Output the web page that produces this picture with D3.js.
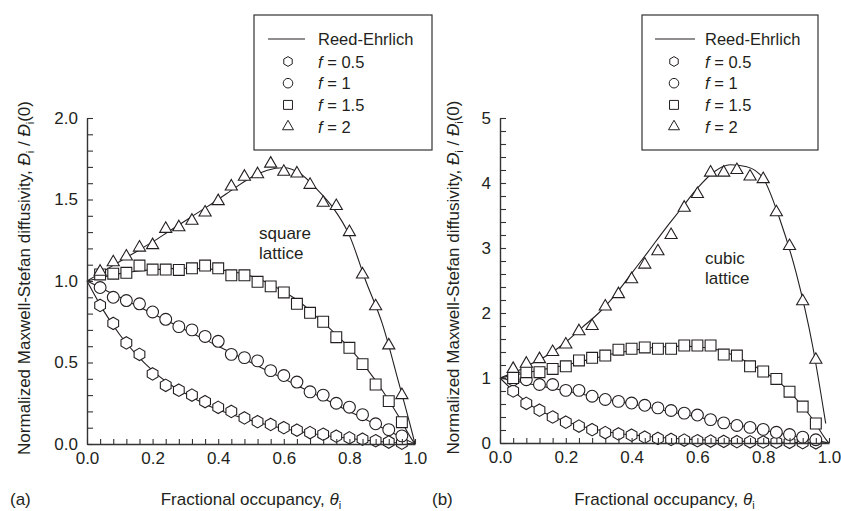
<!DOCTYPE html>
<html><head><meta charset="utf-8">
<script src="https://cdn.jsdelivr.net/npm/d3@7"></script>
<style>
body{margin:0;background:#fff}
svg{display:block}
text{font-family:"Liberation Sans",Arial,Helvetica,sans-serif;fill:#231f20}
</style>
</head><body>
<svg id="chart" width="841" height="511"></svg>
<script>
// ---------- DATA ----------
const occupancy = [0.04,0.08,0.12,0.16,0.20,0.24,0.28,0.32,0.36,0.40,0.44,0.48,0.52,0.56,0.60,0.64,0.68,0.72,0.76,0.80,0.84,0.88,0.92,0.96];
const curveOccupancy = [0,0.05,0.10,0.15,0.20,0.25,0.30,0.35,0.40,0.45,0.50,0.55,0.60,0.65,0.70,0.75,0.80,0.85,0.90,0.95,0.99,1.0];
const seriesLabels = ["0.5","1","1.5","2"];

// (a) square lattice – simulation markers
const sqHexagon  = [0.85,0.74,0.62,0.55,0.43,0.36,0.33,0.30,0.26,0.225,0.20,0.16,0.137,0.12,0.10,0.085,0.07,0.06,0.048,0.038,0.03,0.02,0.012,0.005];
const sqCircle   = [0.96,0.90,0.88,0.86,0.81,0.765,0.72,0.70,0.66,0.63,0.55,0.53,0.51,0.45,0.42,0.38,0.32,0.30,0.25,0.226,0.18,0.124,0.088,0.05];
const sqSquare   = [1.04,1.045,1.05,1.095,1.07,1.07,1.068,1.078,1.095,1.078,1.035,1.035,0.995,0.967,0.93,0.86,0.805,0.75,0.655,0.59,0.49,0.365,0.263,0.134];
const sqTriangle = [1.057,1.115,1.15,1.205,1.22,1.32,1.33,1.37,1.42,1.49,1.58,1.64,1.655,1.72,1.67,1.66,1.59,1.48,1.46,1.30,1.04,0.845,0.605,0.30];
// (a) Reed-Ehrlich curves
const sqCurveF05 = [1.0,0.82,0.67,0.55,0.45,0.37,0.31,0.255,0.21,0.175,0.145,0.118,0.095,0.076,0.06,0.046,0.034,0.023,0.014,0.006,0.001,0];
const sqCurveF1  = [1.0,0.95,0.90,0.85,0.80,0.75,0.70,0.65,0.60,0.55,0.50,0.45,0.40,0.35,0.30,0.25,0.20,0.15,0.10,0.05,0.01,0];
const sqCurveF15 = [1.0,1.025,1.045,1.06,1.07,1.075,1.078,1.075,1.07,1.055,1.03,0.99,0.935,0.87,0.78,0.69,0.59,0.47,0.33,0.17,0.03,0];
const sqCurveF2  = [1.0,1.06,1.12,1.18,1.24,1.305,1.37,1.435,1.50,1.57,1.635,1.68,1.695,1.66,1.565,1.45,1.28,1.0,0.74,0.38,0.08,0];

// (b) cubic lattice – simulation markers
const cuHexagon  = [0.80,0.61,0.505,0.40,0.32,0.26,0.205,0.16,0.14,0.12,0.09,0.07,0.055,0.045,0.035,0.03,0.025,0.02,0.018,0.015,0.012,0.01,0.005,0.003];
const cuCircle   = [0.974,0.974,0.90,0.90,0.81,0.81,0.72,0.67,0.64,0.615,0.58,0.54,0.50,0.46,0.43,0.36,0.31,0.27,0.24,0.21,0.165,0.13,0.09,0.05];
const cuSquare   = [1.0,1.09,1.09,1.14,1.18,1.27,1.31,1.345,1.435,1.45,1.47,1.45,1.45,1.50,1.50,1.50,1.36,1.345,1.18,1.10,0.985,0.79,0.56,0.30];
const cuTriangle = [1.14,1.22,1.29,1.40,1.515,1.72,1.80,2.10,2.29,2.52,2.745,2.95,3.20,3.62,3.83,4.16,4.16,4.20,4.10,4.06,3.55,3.03,2.18,1.28];
// (b) Reed-Ehrlich curves
const cuCurveF05 = [1.0,0.76,0.56,0.43,0.33,0.255,0.20,0.155,0.125,0.10,0.08,0.065,0.052,0.042,0.033,0.025,0.018,0.012,0.008,0.004,0.001,0];
const cuCurveF1  = [1.0,0.95,0.90,0.85,0.80,0.75,0.70,0.65,0.60,0.55,0.50,0.45,0.40,0.35,0.30,0.25,0.20,0.15,0.10,0.05,0.01,0];
const cuCurveF15 = [1.0,1.05,1.10,1.15,1.20,1.26,1.32,1.38,1.42,1.46,1.48,1.49,1.48,1.45,1.37,1.25,1.10,0.93,0.68,0.37,0.06,0];
const cuCurveF2  = [1.0,1.10,1.23,1.37,1.55,1.78,2.00,2.28,2.61,2.94,3.28,3.60,3.92,4.17,4.28,4.25,4.07,3.45,2.62,1.50,0.30,null];

// axis tick values
const xTickValues = d3.range(0, 25.5, 1).map(i => +(i*0.04).toFixed(2));
const xTickLabels = [0, 0.2, 0.4, 0.6, 0.8, 1.0];
const sqYTicks = d3.range(0, 20.5, 1).map(i => +(i*0.1).toFixed(1));
const sqYLabels = [0, 0.5, 1.0, 1.5, 2.0];
const cuYTicks = d3.range(0, 25.5, 1).map(i => +(i*0.2).toFixed(1));
const cuYLabels = [0, 1, 2, 3, 4, 5];

// ---------- DRAWING ----------
const INK = "#231f20";
const svg = d3.select("#chart");

const symbolHexagon = {
  draw(ctx, size) {
    const r = Math.sqrt(size / (3 * Math.sqrt(3) / 2));
    for (let i = 0; i < 6; i++) {
      const a = Math.PI / 3 * i - Math.PI / 2;
      const x = r * Math.cos(a), y = r * Math.sin(a);
      if (i) ctx.lineTo(x, y); else ctx.moveTo(x, y);
    }
    ctx.closePath();
  }
};
const symbolTypes = [symbolHexagon, d3.symbolCircle, d3.symbolSquare, d3.symbolTriangle];
const plotSizes = [100, 110, 118, 64];
const legendSizes = [62, 72, 80, 52];

function panel(cfg) {
  const g = svg.append("g");
  const x = d3.scaleLinear().domain([0, 1]).range([cfg.x0, cfg.x1]);
  const y = d3.scaleLinear().domain([0, cfg.yMax]).range([cfg.yBot, cfg.yTop]);

  // curves
  const line = d3.line()
    .defined(d => d[1] !== null)
    .x(d => x(d[0])).y(d => y(d[1]))
    .curve(d3.curveMonotoneX);
  cfg.curves.forEach(c => {
    g.append("path")
      .datum(curveOccupancy.map((t, i) => [t, c[i]]))
      .attr("d", line)
      .attr("fill", "none").attr("stroke", INK).attr("stroke-width", 1.1);
  });

  // markers
  cfg.markers.forEach((m, si) => {
    const sym = d3.symbol().type(symbolTypes[si]).size(plotSizes[si]);
    g.append("g").selectAll("path")
      .data(occupancy.map((t, i) => [t, m[i]]))
      .join("path")
      .attr("transform", d => `translate(${x(d[0])},${y(d[1])})`)
      .attr("d", sym)
      .attr("fill", "#fff").attr("stroke", INK).attr("stroke-width", 1.1);
  });

  // axes
  const xAxis = d3.axisBottom(x).tickValues(xTickValues)
    .tickSizeInner(-5).tickSizeOuter(0).tickPadding(8)
    .tickFormat(d => xTickLabels.some(v => Math.abs(v - d) < 1e-9) ? d3.format(".1f")(d) : "");
  const gx = g.append("g").attr("transform", `translate(0,${cfg.yBot})`).call(xAxis);
  const yAxis = d3.axisLeft(y).tickValues(cfg.yTicks)
    .tickSizeInner(-6).tickSizeOuter(0).tickPadding(9)
    .tickFormat(d => cfg.yLabels.some(v => Math.abs(v - d) < 1e-9) ? d3.format(cfg.yFormat)(d) : "");
  const gy = g.append("g").attr("transform", `translate(${cfg.x0},0)`).call(yAxis);
  [gx, gy].forEach(a => {
    a.select(".domain").attr("stroke", "#333").attr("stroke-width", 1.4);
    a.selectAll(".tick line").attr("stroke", "#333").attr("stroke-width", 1.1);
    a.selectAll(".tick text").attr("fill", INK).attr("font-size", 17)
      .attr("font-family", '"Liberation Sans",Arial,sans-serif');
  });
  gx.selectAll(".tick text").attr("dy", "0.71em");

  // axis titles
  const xt = g.append("text").attr("x", (cfg.x0 + cfg.x1) / 2).attr("y", 505)
    .attr("text-anchor", "middle").attr("font-size", 17);
  xt.append("tspan").text("Fractional occupancy, ");
  xt.append("tspan").attr("font-style", "italic").text("θ");
  xt.append("tspan").attr("font-size", 11).attr("dy", 4).text("i");

  const yt = g.append("text")
    .attr("transform", `translate(${cfg.yTitleX},${(cfg.yTop + cfg.yBot) / 2 - 3}) rotate(-90)`)
    .attr("text-anchor", "middle").attr("font-size", 17);
  yt.append("tspan").text("Normalized Maxwell-Stefan diffusivity, ");
  yt.append("tspan").attr("font-style", "italic").text("Đ");
  yt.append("tspan").attr("font-size", 11).attr("dy", 4).text("i");
  yt.append("tspan").attr("dy", -4).text(" / ");
  yt.append("tspan").attr("font-style", "italic").text("Đ");
  yt.append("tspan").attr("font-size", 11).attr("dy", 4).text("i");
  yt.append("tspan").attr("dy", -4).text("(0)");

  // panel tag
  g.append("text").attr("x", cfg.tagX).attr("y", 505).attr("font-size", 17).text(cfg.tag);

  // lattice annotation
  cfg.latticeText.forEach((s, i) => {
    g.append("text").attr("x", cfg.latticeX).attr("y", cfg.latticeY + i * 20)
      .attr("font-size", 17).text(s);
  });

  // legend
  const L = cfg.legend;
  const lg = g.append("g");
  lg.append("rect").attr("x", L.x).attr("y", L.y).attr("width", L.w).attr("height", L.h)
    .attr("fill", "#fff").attr("stroke", "#333").attr("stroke-width", 1.2);
  lg.append("line").attr("x1", L.lineX1).attr("x2", L.lineX2).attr("y1", L.y + 24).attr("y2", L.y + 24)
    .attr("stroke", INK).attr("stroke-width", 1.1);
  lg.append("text").attr("x", L.textX).attr("y", L.y + 30).attr("font-size", 16.5).text("Reed-Ehrlich");
  seriesLabels.forEach((lab, i) => {
    const yy = L.y + 46.5 + i * 21.7;
    lg.append("path").attr("transform", `translate(${L.symX},${yy})`)
      .attr("d", d3.symbol().type(symbolTypes[i]).size(legendSizes[i])())
      .attr("fill", "#fff").attr("stroke", INK).attr("stroke-width", 1);
    const t = lg.append("text").attr("x", L.textX).attr("y", yy + 6).attr("font-size", 16.5);
    t.append("tspan").attr("font-style", "italic").text("f");
    t.append("tspan").text(" = " + lab);
  });
}

panel({
  x0: 87, x1: 415, yTop: 118, yBot: 444, yMax: 2.0,
  yTicks: sqYTicks, yLabels: sqYLabels, yFormat: ".1f",
  markers: [sqHexagon, sqCircle, sqSquare, sqTriangle],
  curves: [sqCurveF05, sqCurveF1, sqCurveF15, sqCurveF2],
  yTitleX: 30, tag: "(a)", tagX: 10,
  latticeText: ["square", "lattice"], latticeX: 259, latticeY: 239,
  legend: {x: 254, y: 15, w: 178, h: 135, lineX1: 268, lineX2: 305, symX: 288, textX: 318}
});
panel({
  x0: 500, x1: 829, yTop: 118, yBot: 443, yMax: 5,
  yTicks: cuYTicks, yLabels: cuYLabels, yFormat: "d",
  markers: [cuHexagon, cuCircle, cuSquare, cuTriangle],
  curves: [cuCurveF05, cuCurveF1, cuCurveF15, cuCurveF2],
  yTitleX: 459, tag: "(b)", tagX: 432,
  latticeText: ["cubic", "lattice"], latticeX: 705, latticeY: 264,
  legend: {x: 642, y: 15, w: 176, h: 135, lineX1: 655, lineX2: 695, symX: 674, textX: 705}
});
</script>
</body></html>
